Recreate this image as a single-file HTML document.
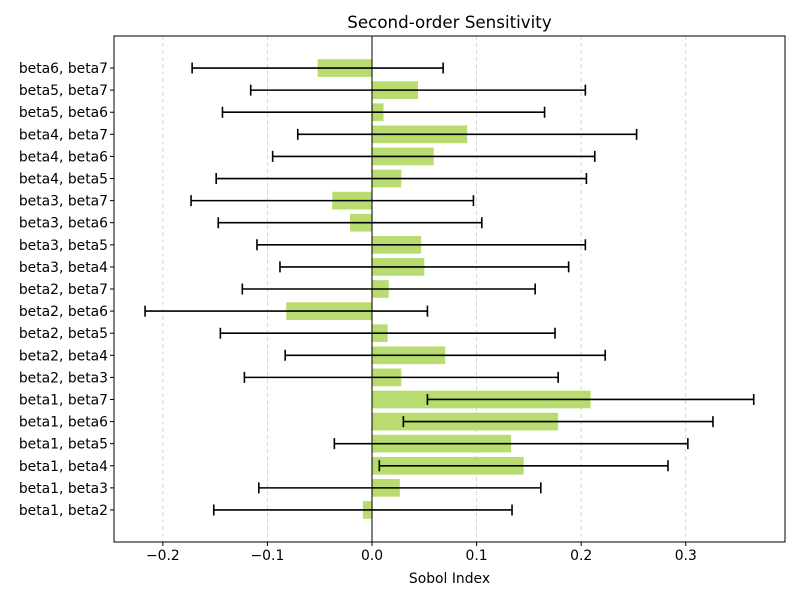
<!DOCTYPE html>
<html><head><meta charset="utf-8"><style>
body{margin:0;background:#fff}
svg text{font-family:"DejaVu Sans","Liberation Sans",sans-serif;fill:#000}
</style></head><body>
<svg id="c" width="800" height="600"></svg>
<script>
const labels=["beta1, beta2","beta1, beta3","beta1, beta4","beta1, beta5","beta1, beta6","beta1, beta7","beta2, beta3","beta2, beta4","beta2, beta5","beta2, beta6","beta2, beta7","beta3, beta4","beta3, beta5","beta3, beta6","beta3, beta7","beta4, beta5","beta4, beta6","beta4, beta7","beta5, beta6","beta5, beta7","beta6, beta7"];
const values=[-0.0087,0.0266,0.145,0.133,0.178,0.209,0.028,0.070,0.015,-0.082,0.016,0.050,0.047,-0.021,-0.038,0.028,0.059,0.091,0.011,0.044,-0.052];
const conf=[0.1426,0.1348,0.138,0.169,0.148,0.156,0.150,0.153,0.160,0.135,0.140,0.138,0.157,0.126,0.135,0.177,0.154,0.162,0.154,0.160,0.120];
const xTicks=[-0.2,-0.1,0.0,0.1,0.2,0.3];
const xTickLabels=["−0.2","−0.1","0.0","0.1","0.2","0.3"];
const L=114,R=785,T=36,B=542,X0=-0.2467,X1=0.3949;
const sx=v=>L+(v-X0)/(X1-X0)*(R-L);
const sy=i=>B-(i+1.45)/(21.45+1.45)*(B-T);
const bh=(sy(0)-sy(1))*0.8;
const svg=document.getElementById('c');const NS="http://www.w3.org/2000/svg";
function mk(t,a,txt){const e=document.createElementNS(NS,t);for(const k in a)e.setAttribute(k,a[k]);if(txt!==undefined)e.textContent=txt;svg.appendChild(e);return e;}
xTicks.forEach((t,i)=>{const x=sx(t);
let g=mk('line',{x1:x,x2:x,y1:T,y2:B,stroke:'#ccc','stroke-dasharray':'4,3','stroke-width':0.8});

let tk=mk('line',{x1:x,x2:x,y1:B,y2:B+4,stroke:'#000'});

let tl=mk('text',{x:x,y:B+18,'text-anchor':'middle','font-size':13.9},xTickLabels[i]);
});
labels.forEach((lb,i)=>{const y=sy(i),v=values[i];
let b=mk('rect',{x:Math.min(sx(0),sx(v)),y:y-bh/2,width:Math.abs(sx(v)-sx(0)),height:bh,fill:'#b8dc6f'});

let tk=mk('line',{x1:L-4,x2:L,y1:y,y2:y,stroke:'#000'});

let tl=mk('text',{x:L-6,y:y+5,'text-anchor':'end','font-size':13.9},lb);
});
let z=mk('line',{x1:sx(0),x2:sx(0),y1:T,y2:B,stroke:'#000','stroke-width':1});

labels.forEach((lb,i)=>{const y=sy(i),a=sx(values[i]-conf[i]),b2=sx(values[i]+conf[i]);
let e=mk('path',{d:`M${a},${y}H${b2}M${a},${y-5.5}V${y+5.5}M${b2},${y-5.5}V${y+5.5}`,stroke:'#000','stroke-width':1.6,fill:'none'});
});
let fr=mk('rect',{x:L,y:T,width:R-L,height:B-T,fill:'none',stroke:'#000','stroke-width':1});

let ti=mk('text',{x:(L+R)/2,y:28,'text-anchor':'middle','font-size':16.7},'Second-order Sensitivity');

let xt=mk('text',{x:(L+R)/2,y:583,'text-anchor':'middle','font-size':13.9},'Sobol Index');

</script>
</body></html>
